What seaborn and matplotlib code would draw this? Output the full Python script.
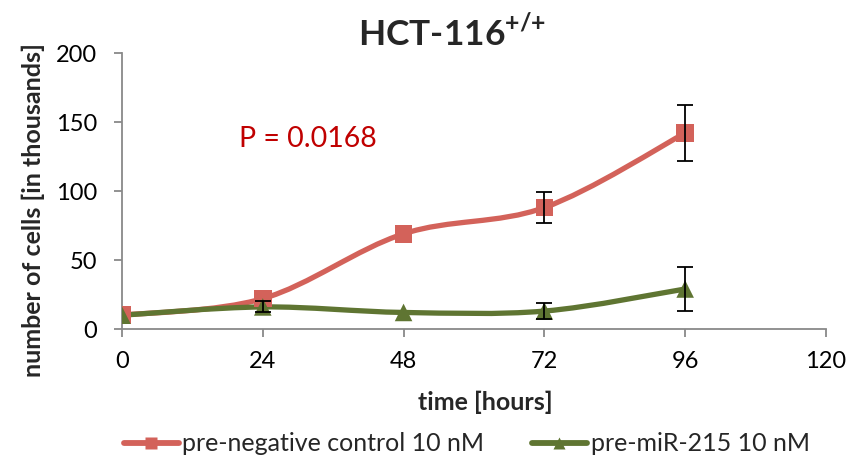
import numpy as np
import pandas as pd
import matplotlib
matplotlib.use("Agg")
import matplotlib.pyplot as plt
from matplotlib.path import Path
from matplotlib.patches import PathPatch
from matplotlib.lines import Line2D
import seaborn as sns

# =========================
# Data
# =========================
hours = [0, 24, 48, 72, 96]
control_cells = [10, 22, 69, 88, 142]
control_err = [0, 0, 0, 11, 20]
mir215_cells = [10, 16, 12, 13, 29]
mir215_err = [0, 4, 0, 6, 16]

series_names = ["pre-negative control 10 nM", "pre-miR-215 10 nM"]
x_ticks = [0, 24, 48, 72, 96, 120]
y_ticks = [0, 50, 100, 150, 200]

RED = "#D3625A"
GREEN = "#5F7532"

df = pd.DataFrame({
    "time": hours * 2,
    "cells": control_cells + mir215_cells,
    "err": control_err + mir215_err,
    "series": [series_names[0]] * len(hours) + [series_names[1]] * len(hours),
})

sns.set_style("white")
plt.rcParams["font.family"] = ["Lato", "DejaVu Sans"]
plt.rcParams["mathtext.fontset"] = "custom"
plt.rcParams["mathtext.bf"] = "Lato:bold"
plt.rcParams["mathtext.rm"] = "Lato"


def smooth_path(x, y):
    # Excel-like smoothed line: cubic bezier segments with catmull-rom handles
    x = np.asarray(x, float)
    y = np.asarray(y, float)
    verts = [(x[0], y[0])]
    codes = [Path.MOVETO]
    n = len(x)
    for i in range(n - 1):
        x0, y0 = (x[i - 1], y[i - 1]) if i > 0 else (x[i], y[i])
        x3, y3 = (x[i + 2], y[i + 2]) if i + 2 < n else (x[i + 1], y[i + 1])
        c1 = (x[i] + (x[i + 1] - x0) / 6, y[i] + (y[i + 1] - y0) / 6)
        c2 = (x[i + 1] - (x3 - x[i]) / 6, y[i + 1] - (y3 - y[i]) / 6)
        verts += [c1, c2, (x[i + 1], y[i + 1])]
        codes += [Path.CURVE4] * 3
    return Path(verts, codes)


fig = plt.figure(figsize=(8.5, 4.61), dpi=100)
ax = fig.add_axes([0.1435, 0.2863, 0.8282, 0.5987])

colors = {series_names[0]: RED, series_names[1]: GREEN}
markers = {series_names[0]: "s", series_names[1]: "^"}

for name in series_names:
    sub = df[df["series"] == name]
    ax.add_patch(PathPatch(smooth_path(sub["time"], sub["cells"]),
                           facecolor="none", edgecolor=colors[name],
                           lw=3.8, zorder=2, capstyle="round"))
    has_err = sub["err"] > 0
    ax.errorbar(sub["time"][has_err], sub["cells"][has_err],
                yerr=sub["err"][has_err], fmt="none", ecolor="black",
                elinewidth=1.3, capsize=6, capthick=1.3, zorder=4)

sns.scatterplot(data=df, x="time", y="cells", hue="series", style="series",
                palette=colors, markers=markers, s=160, edgecolor="none",
                legend=False, ax=ax, zorder=3)

ax.set_xlim(0, 120)
ax.set_ylim(0, 200)
ax.set_xticks(x_ticks)
ax.set_yticks(y_ticks)
ax.tick_params(axis="both", labelsize=17, colors="#898989", length=6,
               width=1.3, direction="out", labelcolor="black", bottom=True, left=True)
ax.tick_params(axis="x", pad=10)
ax.tick_params(axis="y", pad=12)
for side in ["top", "right"]:
    ax.spines[side].set_visible(False)
for side in ["left", "bottom"]:
    ax.spines[side].set_color("#898989")
    ax.spines[side].set_linewidth(1.3)

ax.set_xlabel("time [hours]", fontsize=18, fontweight="bold")
ax.set_ylabel("number of cells [in thousands]", fontsize=18, fontweight="bold")
ax.xaxis.set_label_coords(0.516, -0.264)
ax.yaxis.set_label_coords(-0.126, 0.43)
ax.xaxis.label.set_va("center")
ax.yaxis.label.set_va("center")

fig.text(452 / 850, 1 - 45 / 461, "HCT-116$^{\\mathbf{{+}/{+}}}$",
         fontsize=25.5, fontweight="bold", ha="center", va="baseline")

ax.text(20, 138, "P = 0.0168", color="#C00000", fontsize=20.5, va="center")

handles = [Line2D([0], [0], color=colors[n], lw=4.2, marker=markers[n],
                  markersize=8.5, markeredgecolor="none") for n in series_names]
fig.legend(handles, series_names, loc="center", ncol=2, frameon=False,
           fontsize=18, bbox_to_anchor=(0.549, 0.037), handlelength=2.2,
           handletextpad=0.15, columnspacing=1.9)

fig.savefig("out.png", dpi=100)
